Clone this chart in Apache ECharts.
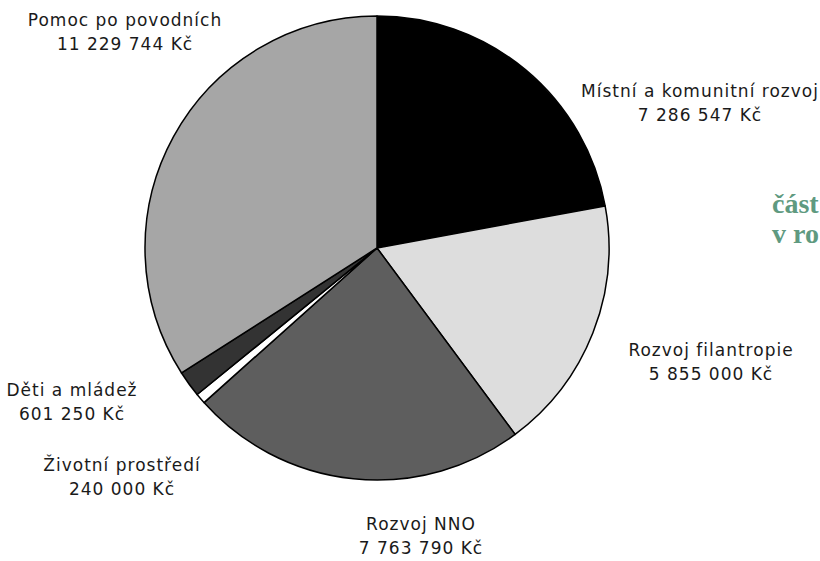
<!DOCTYPE html>
<html><head><meta charset="utf-8">
<script src="https://cdn.jsdelivr.net/npm/echarts@6/dist/echarts.min.js"></script>
<style>html,body{margin:0;padding:0;background:#fff}#c{width:820px;height:561px}#c text{letter-spacing:1px}#c text[fill="#5f9a80"],#c text[style*="bold"]{letter-spacing:0}</style>
</head><body><div id="c"></div>
<script>
const categories = ["Místní a komunitní rozvoj","Rozvoj filantropie","Rozvoj NNO","Životní prostředí","Děti a mládež","Pomoc po povodních"];
const amounts = [7286547, 5855000, 7763790, 240000, 601250, 11229744];
const amountLabels = ["7 286 547 Kč","5 855 000 Kč","7 763 790 Kč","240 000 Kč","601 250 Kč","11 229 744 Kč"];
const sliceColors = ["#000000","#dddddd","#5e5e5e","#ffffff","#333333","#a6a6a6"];
const labelCenters = [[700,103],[711,362],[421,536],[122,477],[72,402],[125,32]];

const chart = echarts.init(document.getElementById('c'), null, {renderer:'svg'});
chart.setOption({
  animation:false,
  graphic:[{type:'text',left:772,top:188,style:{text:'část\nv ro',fontFamily:'"Liberation Serif", serif',fontWeight:'bold',fontSize:28,fill:'#5f9a80',lineHeight:30}}],
  series:[{
    type:'pie',
    center:[377,248],
    radius:232,
    startAngle:90,
    clockwise:true,
    data:categories.map((n,i)=>({name:n,value:amounts[i],itemStyle:{color:sliceColors[i]}})),
    itemStyle:{borderColor:'#000',borderWidth:1.5},
    label:{show:true,position:'outside',formatter:p=>p.name+'\n'+amountLabels[p.dataIndex],
      fontFamily:'"DejaVu Sans"',fontSize:17,color:'#1a1a1a',lineHeight:24,align:'center',overflow:'none',width:300},
    labelLine:{show:false},
    labelLayout:function(p){const c=labelCenters[p.dataIndex];return {x:c[0],y:c[1],align:'center',verticalAlign:'middle'};}
  }]
});
</script></body></html>
